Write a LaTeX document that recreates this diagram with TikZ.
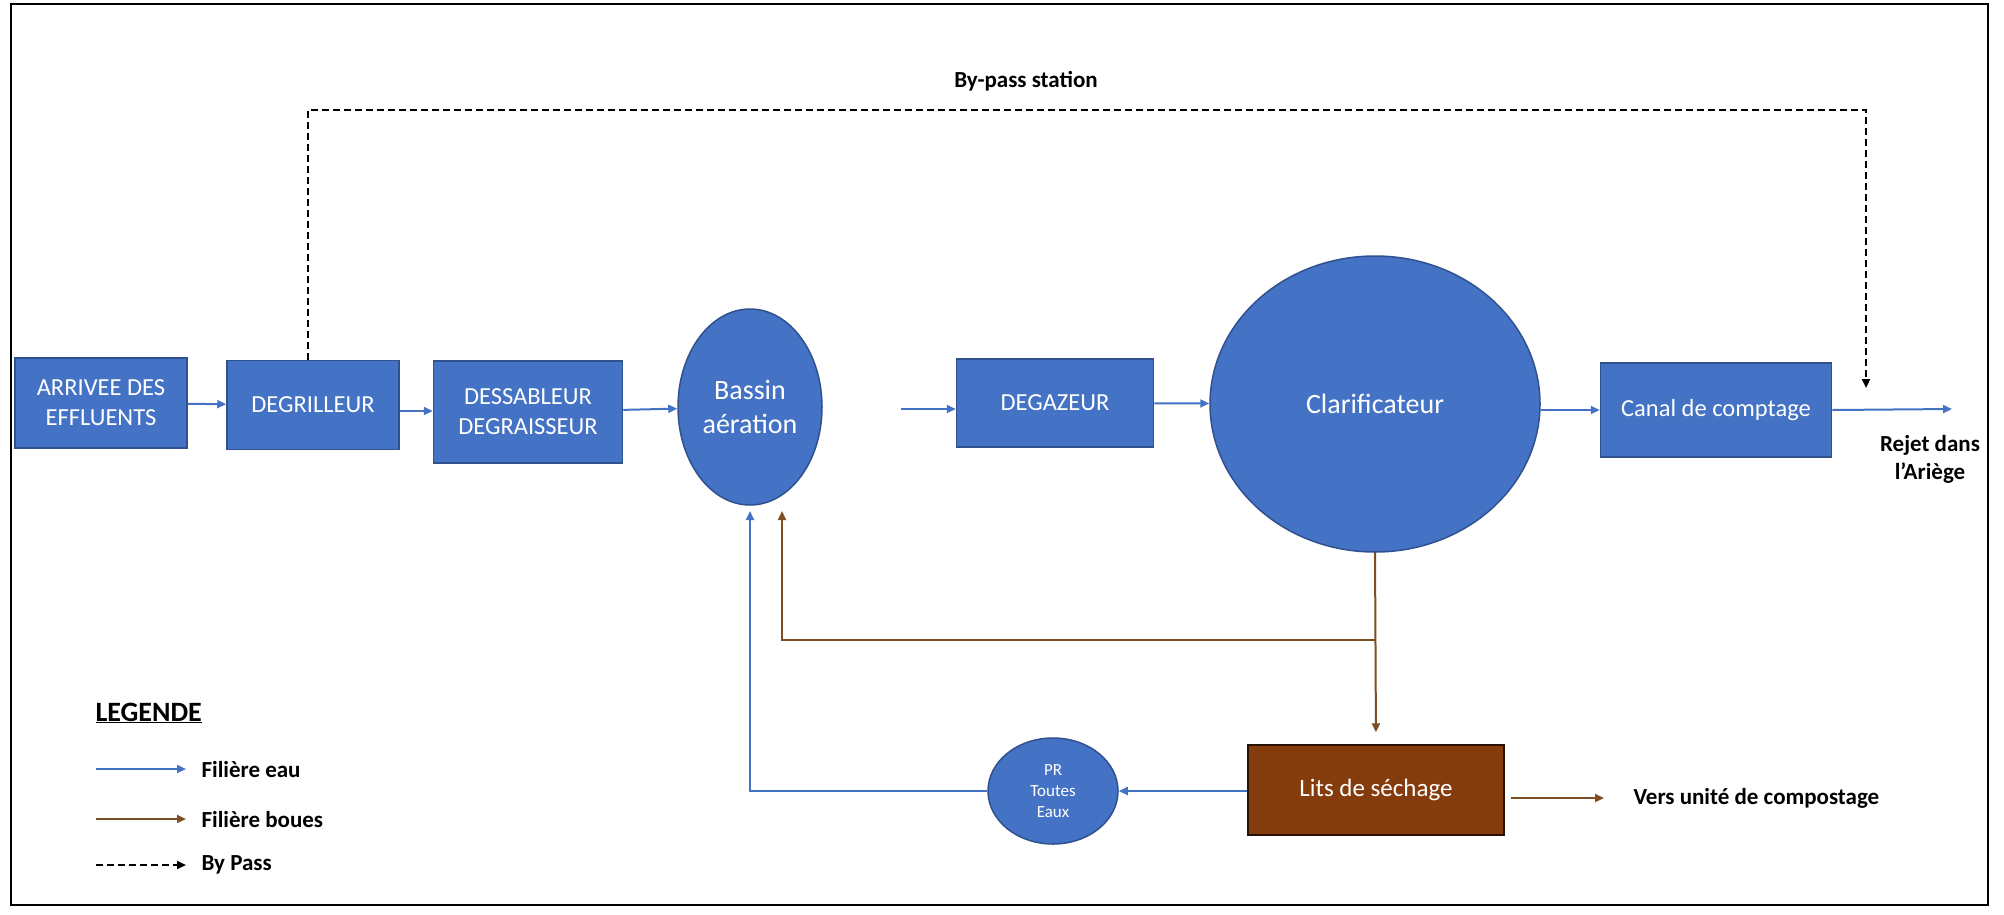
\documentclass[tikz,border=0pt]{standalone}
\usepackage{fontspec}
\setmainfont{Carlito}
\usepackage{tikz}
\usetikzlibrary{arrows.meta, shapes.geometric}

\definecolor{stepblue}{HTML}{4472C4}
\definecolor{stepedge}{HTML}{2F528F}
\definecolor{sludge}{HTML}{843C0C}
\definecolor{sludgeline}{HTML}{7F4F24}

\tikzset{
    unitbox/.style={draw=stepedge, fill=stepblue, line width=1.5pt, text=white,
        align=center, inner sep=0pt, font=\fontsize{24.5}{30}\selectfont},
    basin/.style={ellipse, draw=stepedge, fill=stepblue, line width=1.5pt, text=white,
        align=center, inner sep=0pt, font=\fontsize{28}{34}\selectfont},
    water/.style={draw=stepblue, line width=2pt, -{Triangle[length=9pt,width=8pt]}},
    boues/.style={draw=sludgeline, line width=2pt, -{Triangle[length=9pt,width=8pt]}},
    bypass/.style={draw=black, line width=2pt, dash pattern=on 7pt off 4pt, -{Triangle[length=9pt,width=8pt]}},
    label/.style={font=\bfseries\fontsize{23}{28}\selectfont, align=center}
}

\begin{document}
\begin{tikzpicture}[x=1pt, y=-1pt]
    \useasboundingbox (0,0) rectangle (2004,914);
    \draw[line width=2pt] (11,4) rectangle (1988,905);

    % filiere eau
    \node[unitbox, minimum width=172, minimum height=90] (arrivee) at (101,403) {ARRIVEE DES\\EFFLUENTS};
    \node[unitbox, minimum width=172, minimum height=89] (degrilleur) at (313,405) {DEGRILLEUR};
    \node[unitbox, minimum width=189, minimum height=102] (dessableur) at (528,412) {DESSABLEUR\\DEGRAISSEUR};
    \node[basin, minimum width=144, minimum height=196] (bassin) at (750,407) {Bassin\\a\'eration};
    \node[unitbox, minimum width=197, minimum height=88] (degazeur) at (1055,403) {DEGAZEUR};
    \node[basin, minimum width=330, minimum height=296] (clarif) at (1375,404) {Clarificateur};
    \node[unitbox, minimum width=231, minimum height=94] (canal) at (1716,410) {Canal de comptage};
    \coordinate (rejet) at (1952,409);
    \node[label, anchor=north] (rejettxt) at (1930,432) {Rejet dans\\l'Ari\`ege};
    \coordinate (aerout) at (901,409);
    \coordinate (aerin) at (750,511);
    \coordinate (retour) at (782,511);

    % filiere boues
    \node[unitbox, draw=black!70!sludge, fill=sludge, minimum width=256, minimum height=90,
        font=\fontsize{25}{30}\selectfont] (lits) at (1376,790) {Lits de s\'echage};
    \node[basin, minimum width=130, minimum height=106, font=\fontsize{17}{21}\selectfont] (pr) at (1053,791) {PR\\Toutes\\Eaux};
    \node[label, anchor=west] (compost) at (1630,798) {Vers unit\'e de compostage};
    \coordinate (compostend) at (1604,798);
    \coordinate (branch) at (clarif.south |- 0,640);

    \draw[water] (arrivee) -- (degrilleur);
    \draw[water] ([yshift=-6pt]degrilleur.east) -- (dessableur.west |- 0,411);
    \draw[water] (dessableur) -- (bassin);
    \draw[water] (aerout) -- (aerout -| degazeur.west);
    \draw[water] (degazeur) -- (clarif);
    \draw[water] (clarif.east |- canal.west) -- (canal.west);
    \draw[water] (canal.east) -- (rejet);
    \draw[water] (lits.west |- pr.east) -- (pr.east);
    \draw[water] (pr.west) -| (aerin);

    \draw[boues, shorten >=12pt] (clarif.south) -- (lits.north);
    \draw[boues] (branch) -| (retour);
    \draw[boues] (lits.east |- compostend) ++(6,0) -- (compostend);

    % by-pass
    \draw[bypass] ([xshift=-5pt]degrilleur.north) |- (1866,110) -- (1866,388);
    \node[label] (bypasstxt) at (1026,81) {By-pass station};

    % legende
    \node[label, anchor=west, font=\bfseries\fontsize{28}{33}\selectfont] (legende) at (92,713) {\underline{LEGENDE}};
    \foreach \y/\sty/\txt [count=\i] in {769/water/Fili\`ere eau, 819/boues/Fili\`ere boues, 865/bypass/By Pass} {
        \coordinate (leg\i a) at (96,\y);
        \coordinate (leg\i b) at (186,\y);
        \draw[\sty] (leg\i a) -- (leg\i b);
        \node[label, anchor=west] (leg\i) at (198,\y) {\txt};
    }
\end{tikzpicture}
\end{document}
